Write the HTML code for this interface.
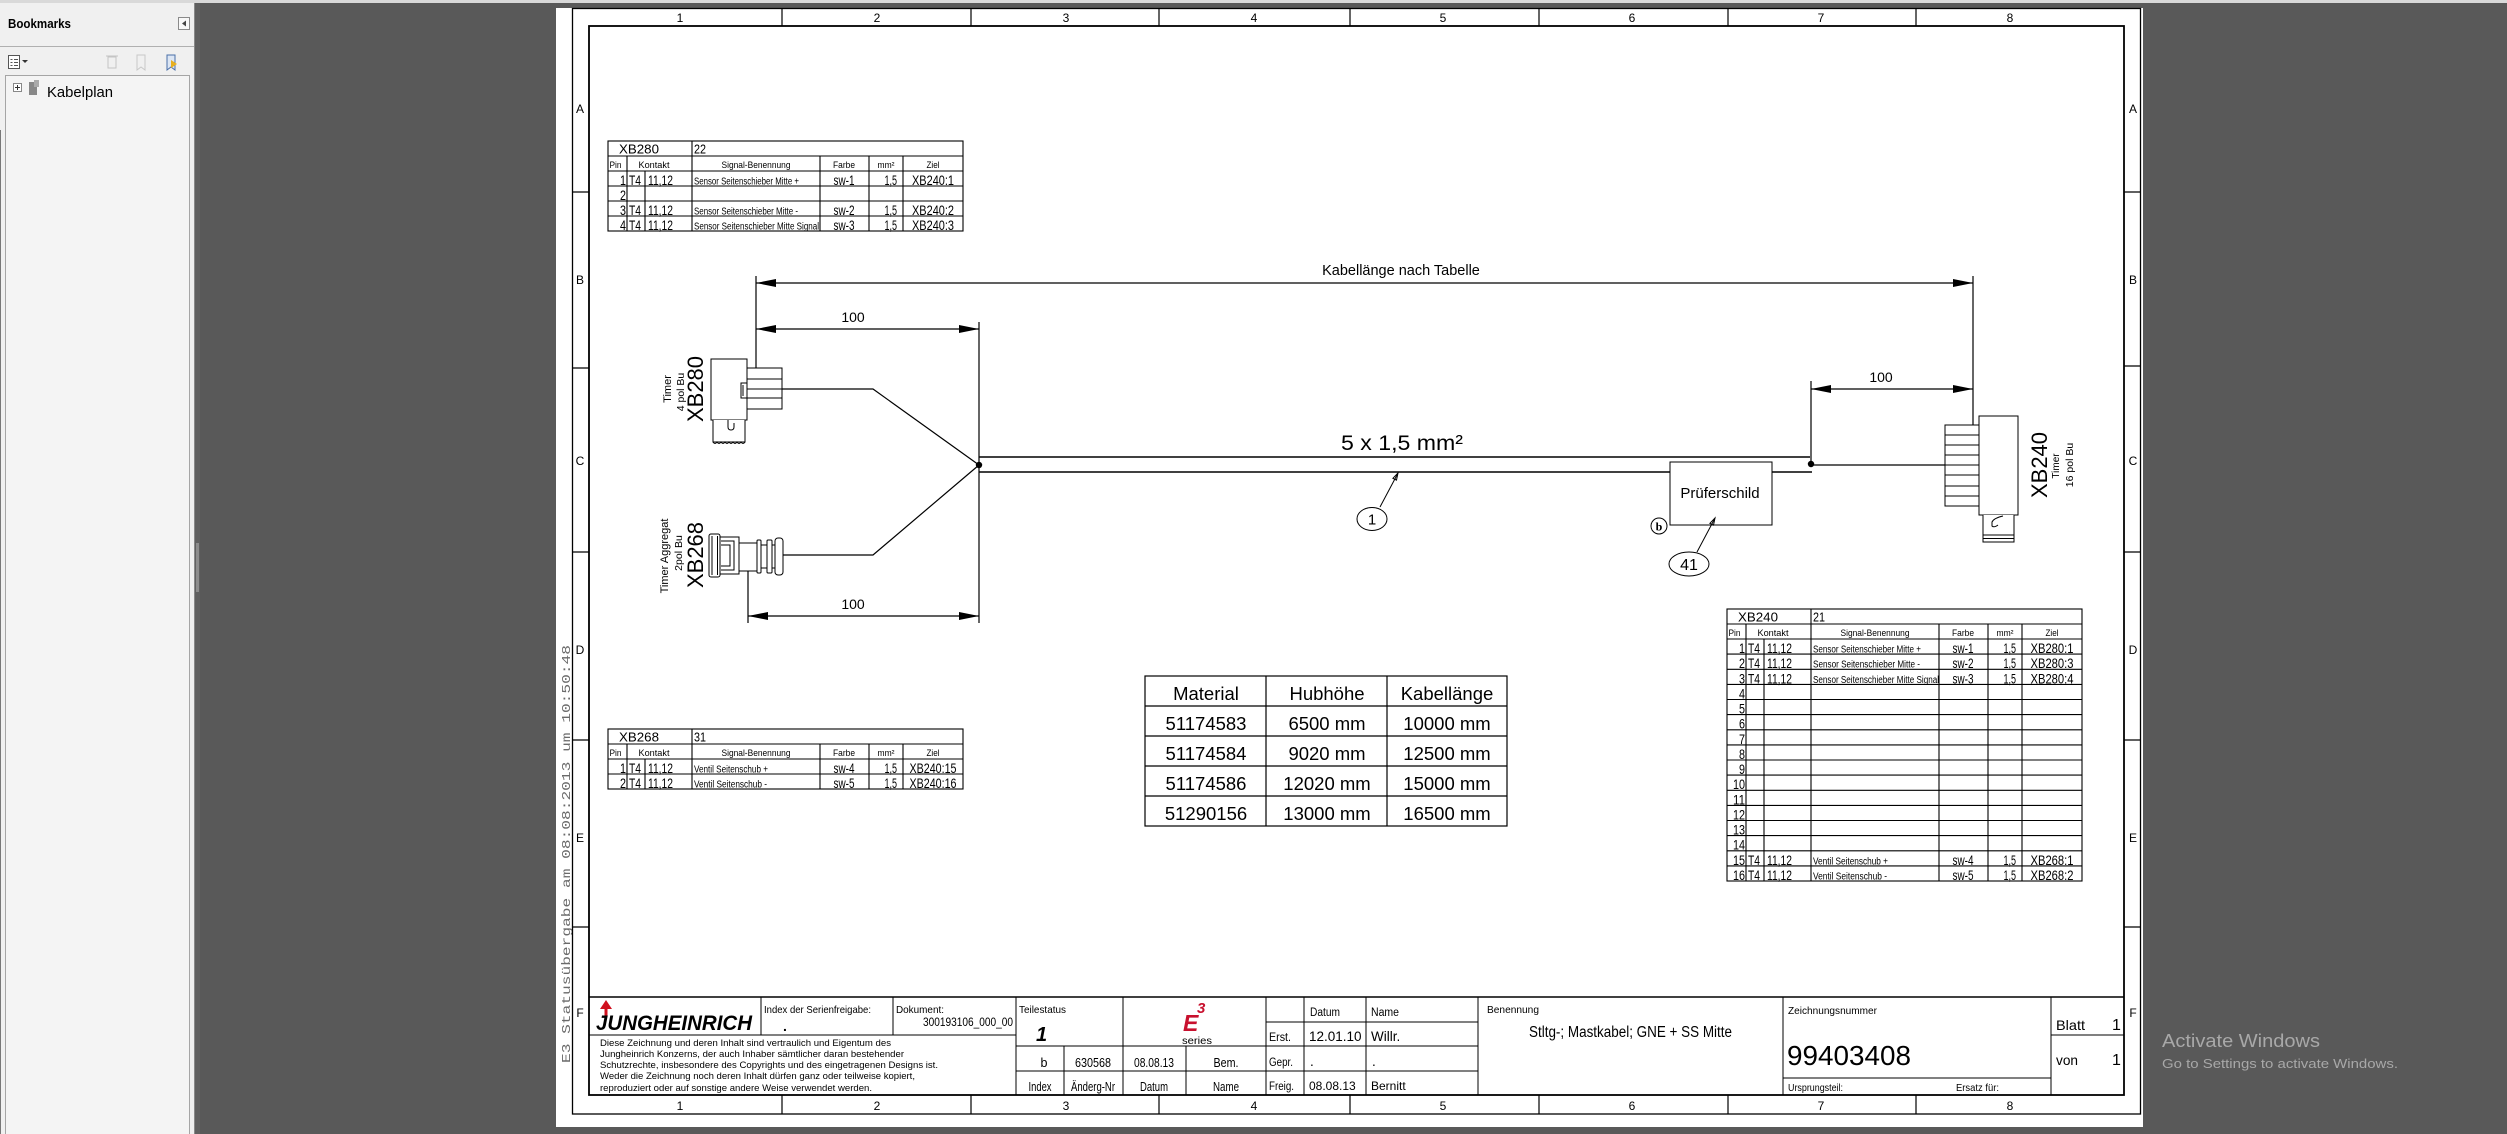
<!DOCTYPE html>
<html><head><meta charset="utf-8">
<style>
html,body{margin:0;padding:0;width:2507px;height:1134px;overflow:hidden;background:#595959}
svg{display:block}
text{font-family:"Liberation Sans",Arial,sans-serif;fill:#000}
</style></head><body>
<svg width="2507" height="1134" viewBox="0 0 2507 1134" xmlns="http://www.w3.org/2000/svg">
<rect width="2507" height="1134" fill="#595959"/>
<rect width="2507" height="3" fill="#d9d9d9"/>

<!-- Bookmarks panel -->
<rect x="0" y="3" width="194" height="1131" fill="#f0f0f0"/>
<line x1="194.5" y1="3" x2="194.5" y2="1134" stroke="#8a8a8a"/>
<rect x="195" y="3" width="5" height="1131" fill="#606060"/>
<rect x="196" y="543" width="3" height="49" fill="#8c8c8c"/>
<line x1="0.5" y1="130" x2="0.5" y2="1134" stroke="#777"/>
<text x="8" y="28" font-size="12.5" font-weight="bold" textLength="63" lengthAdjust="spacingAndGlyphs">Bookmarks</text>
<rect x="178.5" y="17.5" width="11" height="12" fill="#f8f8f8" stroke="#8a8a8a"/>
<polygon points="182,23.5 186,20.5 186,26.5" fill="#444"/>
<line x1="0" y1="46.5" x2="194" y2="46.5" stroke="#b0b0b0"/>
<rect x="8.5" y="55.5" width="11" height="13" fill="#fff" stroke="#555"/>
<path d="M10.5 59.5h2M14 59.5h4M10.5 62.5h2M14 62.5h4M10.5 65.5h2M14 65.5h4" stroke="#555"/>
<polygon points="22,60 28,60 25,63" fill="#333"/>
<rect x="108" y="57" width="8" height="11" fill="none" stroke="#c4c4c4"/>
<line x1="106" y1="56" x2="118" y2="56" stroke="#c4c4c4"/>
<path d="M137 55h8v15l-4-3-4 3z" fill="none" stroke="#c8c8c8"/>
<path d="M167 55h8v15l-4-3-4 3z" fill="#dce6f4" stroke="#4a6fa8"/>
<polygon points="171,60 177,64 171,68" fill="#e8b020"/>
<rect x="5.5" y="75.5" width="184" height="1060" fill="#f4f4f4" stroke="#a5a5a5"/>
<rect x="13.5" y="83.5" width="8" height="8" fill="#fff" stroke="#888"/>
<path d="M15 87.5h5M17.5 85v5" stroke="#333"/>
<rect x="29" y="82" width="8" height="13" fill="#888"/>
<rect x="34" y="80" width="5" height="7" fill="#aaa"/>
<text x="47" y="97" font-size="15" textLength="66" lengthAdjust="spacingAndGlyphs">Kabelplan</text>

<!-- Page -->
<rect x="556" y="8" width="1587" height="1119" fill="#fff"/>
<text transform="translate(570,1063) rotate(-90)" style="font-family:'Liberation Mono',monospace;fill:#6a6a6a" font-size="12" textLength="418" lengthAdjust="spacingAndGlyphs">E3 Statusübergabe am 08:08:2013 um 10:50:48</text>

<g stroke="#000" fill="none">
<rect x="572.5" y="8.5" width="1568" height="1105.5" stroke-width="1.3"/>
<rect x="589" y="26" width="1535" height="1069" stroke-width="1.8"/>
<path stroke-width="1.2" d="M782 8.5V26M971 8.5V26M1159 8.5V26M1350 8.5V26M1539 8.5V26M1728 8.5V26M1916 8.5V26
M782 1095V1114M971 1095V1114M1159 1095V1114M1350 1095V1114M1539 1095V1114M1728 1095V1114M1916 1095V1114
M572 192H589M572 368H589M572 552H589M572 740H589M572 927H589
M2124 192H2141M2124 366H2141M2124 552H2141M2124 740H2141M2124 927H2141"/>
</g>
<g font-size="12" text-anchor="middle">
<text x="680" y="22">1</text><text x="877" y="22">2</text><text x="1066" y="22">3</text><text x="1254" y="22">4</text><text x="1443" y="22">5</text><text x="1632" y="22">6</text><text x="1821" y="22">7</text><text x="2010" y="22">8</text>
<text x="680" y="1110">1</text><text x="877" y="1110">2</text><text x="1066" y="1110">3</text><text x="1254" y="1110">4</text><text x="1443" y="1110">5</text><text x="1632" y="1110">6</text><text x="1821" y="1110">7</text><text x="2010" y="1110">8</text>
<text x="580" y="113">A</text><text x="580" y="284">B</text><text x="580" y="465">C</text><text x="580" y="654">D</text><text x="580" y="842">E</text><text x="580" y="1017">F</text>
<text x="2133" y="113">A</text><text x="2133" y="284">B</text><text x="2133" y="465">C</text><text x="2133" y="654">D</text><text x="2133" y="842">E</text><text x="2133" y="1017">F</text>
</g>

<!-- XB280 table -->
<g stroke="#000" stroke-width="1.1" fill="none">
<rect x="608" y="141" width="355" height="90"/>
<path d="M608 156H963M608 171H963M608 186H963M608 201H963M608 216H963M692 141V231M627 156V231M645 171V231M820 156V231M869 156V231M903 156V231"/>
</g>
<text x="619" y="153.5" font-size="13" textLength="40" lengthAdjust="spacingAndGlyphs">XB280</text>
<text x="694" y="153.5" font-size="13" textLength="12" lengthAdjust="spacingAndGlyphs">22</text>
<g font-size="9" text-anchor="middle">
<text x="609.5" y="168" text-anchor="start" textLength="12" lengthAdjust="spacingAndGlyphs">Pin</text>
<text x="654" y="168" textLength="31" lengthAdjust="spacingAndGlyphs">Kontakt</text>
<text x="756" y="168" textLength="69" lengthAdjust="spacingAndGlyphs">Signal-Benennung</text>
<text x="844" y="168" textLength="22" lengthAdjust="spacingAndGlyphs">Farbe</text>
<text x="886" y="168" textLength="17" lengthAdjust="spacingAndGlyphs">mm²</text>
<text x="933" y="168" textLength="13" lengthAdjust="spacingAndGlyphs">Ziel</text>
</g>
<g font-size="14">
<text x="626" y="185" text-anchor="end" textLength="6" lengthAdjust="spacingAndGlyphs">1</text>
<text x="629" y="185" textLength="12" lengthAdjust="spacingAndGlyphs">T4</text>
<text x="648" y="185" textLength="25" lengthAdjust="spacingAndGlyphs">11,12</text>
<text x="844" y="185" text-anchor="middle" textLength="21" lengthAdjust="spacingAndGlyphs">sw-1</text>
<text x="897" y="185" text-anchor="end" textLength="12.5" lengthAdjust="spacingAndGlyphs">1,5</text>
<text x="933" y="185" text-anchor="middle" textLength="42" lengthAdjust="spacingAndGlyphs">XB240:1</text>
<text x="626" y="200" text-anchor="end" textLength="6" lengthAdjust="spacingAndGlyphs">2</text>
<text x="626" y="215" text-anchor="end" textLength="6" lengthAdjust="spacingAndGlyphs">3</text>
<text x="629" y="215" textLength="12" lengthAdjust="spacingAndGlyphs">T4</text>
<text x="648" y="215" textLength="25" lengthAdjust="spacingAndGlyphs">11,12</text>
<text x="844" y="215" text-anchor="middle" textLength="21" lengthAdjust="spacingAndGlyphs">sw-2</text>
<text x="897" y="215" text-anchor="end" textLength="12.5" lengthAdjust="spacingAndGlyphs">1,5</text>
<text x="933" y="215" text-anchor="middle" textLength="42" lengthAdjust="spacingAndGlyphs">XB240:2</text>
<text x="626" y="230" text-anchor="end" textLength="6" lengthAdjust="spacingAndGlyphs">4</text>
<text x="629" y="230" textLength="12" lengthAdjust="spacingAndGlyphs">T4</text>
<text x="648" y="230" textLength="25" lengthAdjust="spacingAndGlyphs">11,12</text>
<text x="844" y="230" text-anchor="middle" textLength="21" lengthAdjust="spacingAndGlyphs">sw-3</text>
<text x="897" y="230" text-anchor="end" textLength="12.5" lengthAdjust="spacingAndGlyphs">1,5</text>
<text x="933" y="230" text-anchor="middle" textLength="42" lengthAdjust="spacingAndGlyphs">XB240:3</text>
</g>
<g font-size="10">
<text x="694" y="184.5" textLength="105" lengthAdjust="spacingAndGlyphs">Sensor Seitenschieber Mitte +</text>
<text x="694" y="214.5" textLength="104" lengthAdjust="spacingAndGlyphs">Sensor Seitenschieber Mitte -</text>
<text x="694" y="229.5" textLength="125" lengthAdjust="spacingAndGlyphs">Sensor Seitenschieber Mitte Signal</text>
</g>

<!-- XB268 table -->
<g stroke="#000" stroke-width="1.1" fill="none">
<rect x="608" y="729" width="355" height="60"/>
<path d="M608 744H963M608 759H963M608 774H963M692 729V789M627 744V789M645 759V789M820 744V789M869 744V789M903 744V789"/>
</g>
<text x="619" y="741.5" font-size="13" textLength="40" lengthAdjust="spacingAndGlyphs">XB268</text>
<text x="694" y="741.5" font-size="13" textLength="12" lengthAdjust="spacingAndGlyphs">31</text>
<g font-size="9" text-anchor="middle">
<text x="609.5" y="756" text-anchor="start" textLength="12" lengthAdjust="spacingAndGlyphs">Pin</text>
<text x="654" y="756" textLength="31" lengthAdjust="spacingAndGlyphs">Kontakt</text>
<text x="756" y="756" textLength="69" lengthAdjust="spacingAndGlyphs">Signal-Benennung</text>
<text x="844" y="756" textLength="22" lengthAdjust="spacingAndGlyphs">Farbe</text>
<text x="886" y="756" textLength="17" lengthAdjust="spacingAndGlyphs">mm²</text>
<text x="933" y="756" textLength="13" lengthAdjust="spacingAndGlyphs">Ziel</text>
</g>
<g font-size="14">
<text x="626" y="773" text-anchor="end" textLength="6" lengthAdjust="spacingAndGlyphs">1</text>
<text x="629" y="773" textLength="12" lengthAdjust="spacingAndGlyphs">T4</text>
<text x="648" y="773" textLength="25" lengthAdjust="spacingAndGlyphs">11,12</text>
<text x="844" y="773" text-anchor="middle" textLength="21" lengthAdjust="spacingAndGlyphs">sw-4</text>
<text x="897" y="773" text-anchor="end" textLength="12.5" lengthAdjust="spacingAndGlyphs">1,5</text>
<text x="933" y="773" text-anchor="middle" textLength="47" lengthAdjust="spacingAndGlyphs">XB240:15</text>
<text x="626" y="788" text-anchor="end" textLength="6" lengthAdjust="spacingAndGlyphs">2</text>
<text x="629" y="788" textLength="12" lengthAdjust="spacingAndGlyphs">T4</text>
<text x="648" y="788" textLength="25" lengthAdjust="spacingAndGlyphs">11,12</text>
<text x="844" y="788" text-anchor="middle" textLength="21" lengthAdjust="spacingAndGlyphs">sw-5</text>
<text x="897" y="788" text-anchor="end" textLength="12.5" lengthAdjust="spacingAndGlyphs">1,5</text>
<text x="933" y="788" text-anchor="middle" textLength="47" lengthAdjust="spacingAndGlyphs">XB240:16</text>
</g>
<g font-size="10">
<text x="694" y="772.5" textLength="74" lengthAdjust="spacingAndGlyphs">Ventil Seitenschub +</text>
<text x="694" y="787.5" textLength="73" lengthAdjust="spacingAndGlyphs">Ventil Seitenschub -</text>
</g>

<!-- XB240 table -->
<g stroke="#000" stroke-width="1.1" fill="none">
<rect x="1727" y="609" width="355" height="272"/>
<path d="M1727 624H2082M1727 639H2082M1727 654.1H2082M1727 669.3H2082M1727 684.4H2082M1727 699.5H2082M1727 714.6H2082M1727 729.8H2082M1727 744.9H2082M1727 760H2082M1727 775.1H2082M1727 790.3H2082M1727 805.4H2082M1727 820.5H2082M1727 835.6H2082M1727 850.8H2082M1727 865.9H2082
M1811 609V881M1746 624V881M1764 639V881M1939 624V881M1988 624V881M2022 624V881"/>
</g>
<text x="1738" y="621.5" font-size="13" textLength="40" lengthAdjust="spacingAndGlyphs">XB240</text>
<text x="1813" y="621.5" font-size="13" textLength="12" lengthAdjust="spacingAndGlyphs">21</text>
<g font-size="9" text-anchor="middle">
<text x="1728.5" y="636" text-anchor="start" textLength="12" lengthAdjust="spacingAndGlyphs">Pin</text>
<text x="1773" y="636" textLength="31" lengthAdjust="spacingAndGlyphs">Kontakt</text>
<text x="1875" y="636" textLength="69" lengthAdjust="spacingAndGlyphs">Signal-Benennung</text>
<text x="1963" y="636" textLength="22" lengthAdjust="spacingAndGlyphs">Farbe</text>
<text x="2005" y="636" textLength="17" lengthAdjust="spacingAndGlyphs">mm²</text>
<text x="2052" y="636" textLength="13" lengthAdjust="spacingAndGlyphs">Ziel</text>
</g>
<g font-size="14" text-anchor="end">
<text x="1745" y="653" textLength="6" lengthAdjust="spacingAndGlyphs">1</text>
<text x="1745" y="668.1" textLength="6" lengthAdjust="spacingAndGlyphs">2</text>
<text x="1745" y="683.3" textLength="6" lengthAdjust="spacingAndGlyphs">3</text>
<text x="1745" y="698.4" textLength="6" lengthAdjust="spacingAndGlyphs">4</text>
<text x="1745" y="713.5" textLength="6" lengthAdjust="spacingAndGlyphs">5</text>
<text x="1745" y="728.6" textLength="6" lengthAdjust="spacingAndGlyphs">6</text>
<text x="1745" y="743.8" textLength="6" lengthAdjust="spacingAndGlyphs">7</text>
<text x="1745" y="758.9" textLength="6" lengthAdjust="spacingAndGlyphs">8</text>
<text x="1745" y="774" textLength="6" lengthAdjust="spacingAndGlyphs">9</text>
<text x="1745" y="789.1" textLength="12" lengthAdjust="spacingAndGlyphs">10</text>
<text x="1745" y="804.3" textLength="12" lengthAdjust="spacingAndGlyphs">11</text>
<text x="1745" y="819.4" textLength="12" lengthAdjust="spacingAndGlyphs">12</text>
<text x="1745" y="834.5" textLength="12" lengthAdjust="spacingAndGlyphs">13</text>
<text x="1745" y="849.6" textLength="12" lengthAdjust="spacingAndGlyphs">14</text>
<text x="1745" y="864.8" textLength="12" lengthAdjust="spacingAndGlyphs">15</text>
<text x="1745" y="879.9" textLength="12" lengthAdjust="spacingAndGlyphs">16</text>
<text x="2016" y="653" textLength="12.5" lengthAdjust="spacingAndGlyphs">1,5</text>
<text x="2016" y="668.1" textLength="12.5" lengthAdjust="spacingAndGlyphs">1,5</text>
<text x="2016" y="683.3" textLength="12.5" lengthAdjust="spacingAndGlyphs">1,5</text>
<text x="2016" y="864.8" textLength="12.5" lengthAdjust="spacingAndGlyphs">1,5</text>
<text x="2016" y="879.9" textLength="12.5" lengthAdjust="spacingAndGlyphs">1,5</text>
</g>
<g font-size="14">
<text x="1748" y="653" textLength="12" lengthAdjust="spacingAndGlyphs">T4</text>
<text x="1767" y="653" textLength="25" lengthAdjust="spacingAndGlyphs">11,12</text>
<text x="1748" y="668.1" textLength="12" lengthAdjust="spacingAndGlyphs">T4</text>
<text x="1767" y="668.1" textLength="25" lengthAdjust="spacingAndGlyphs">11,12</text>
<text x="1748" y="683.3" textLength="12" lengthAdjust="spacingAndGlyphs">T4</text>
<text x="1767" y="683.3" textLength="25" lengthAdjust="spacingAndGlyphs">11,12</text>
<text x="1748" y="864.8" textLength="12" lengthAdjust="spacingAndGlyphs">T4</text>
<text x="1767" y="864.8" textLength="25" lengthAdjust="spacingAndGlyphs">11,12</text>
<text x="1748" y="879.9" textLength="12" lengthAdjust="spacingAndGlyphs">T4</text>
<text x="1767" y="879.9" textLength="25" lengthAdjust="spacingAndGlyphs">11,12</text>
</g>
<g font-size="14" text-anchor="middle">
<text x="1963" y="653" textLength="21" lengthAdjust="spacingAndGlyphs">sw-1</text>
<text x="1963" y="668.1" textLength="21" lengthAdjust="spacingAndGlyphs">sw-2</text>
<text x="1963" y="683.3" textLength="21" lengthAdjust="spacingAndGlyphs">sw-3</text>
<text x="1963" y="864.8" textLength="21" lengthAdjust="spacingAndGlyphs">sw-4</text>
<text x="1963" y="879.9" textLength="21" lengthAdjust="spacingAndGlyphs">sw-5</text>
<text x="2052" y="653" textLength="43" lengthAdjust="spacingAndGlyphs">XB280:1</text>
<text x="2052" y="668.1" textLength="43" lengthAdjust="spacingAndGlyphs">XB280:3</text>
<text x="2052" y="683.3" textLength="43" lengthAdjust="spacingAndGlyphs">XB280:4</text>
<text x="2052" y="864.8" textLength="43" lengthAdjust="spacingAndGlyphs">XB268:1</text>
<text x="2052" y="879.9" textLength="43" lengthAdjust="spacingAndGlyphs">XB268:2</text>
</g>
<g font-size="10">
<text x="1813" y="652.5" textLength="108" lengthAdjust="spacingAndGlyphs">Sensor Seitenschieber Mitte +</text>
<text x="1813" y="667.6" textLength="107" lengthAdjust="spacingAndGlyphs">Sensor Seitenschieber Mitte -</text>
<text x="1813" y="682.8" textLength="126" lengthAdjust="spacingAndGlyphs">Sensor Seitenschieber Mitte Signal</text>
<text x="1813" y="864.3" textLength="75" lengthAdjust="spacingAndGlyphs">Ventil Seitenschub +</text>
<text x="1813" y="879.4" textLength="74" lengthAdjust="spacingAndGlyphs">Ventil Seitenschub -</text>
</g>

<!-- Material table -->
<g stroke="#000" stroke-width="1.2" fill="none">
<rect x="1145" y="676" width="362" height="150"/>
<path d="M1145 706H1507M1145 736H1507M1145 766H1507M1145 796H1507M1266 676V826M1387 676V826"/>
</g>
<g font-size="18.5" text-anchor="middle">
<text x="1206" y="700">Material</text><text x="1327" y="700">Hubhöhe</text><text x="1447" y="700">Kabellänge</text>
<text x="1206" y="730">51174583</text><text x="1327" y="730">6500 mm</text><text x="1447" y="730">10000 mm</text>
<text x="1206" y="760">51174584</text><text x="1327" y="760">9020 mm</text><text x="1447" y="760">12500 mm</text>
<text x="1206" y="790">51174586</text><text x="1327" y="790">12020 mm</text><text x="1447" y="790">15000 mm</text>
<text x="1206" y="820">51290156</text><text x="1327" y="820">13000 mm</text><text x="1447" y="820">16500 mm</text>
</g>

<!-- Dimensions -->
<g stroke="#000" stroke-width="1.2" fill="none">
<path d="M756 283H1973M756 329H979M748 616H979M1811 389H1973
M756 276V368M979 322V623M748 568V623M1973 276V425M1811 381V464"/>
</g>
<g fill="#000">
<polygon points="756,283 776,279 776,287"/><polygon points="1973,283 1953,279 1953,287"/>
<polygon points="756,329 776,325 776,333"/><polygon points="979,329 959,325 959,333"/>
<polygon points="748,616 768,612 768,620"/><polygon points="979,616 959,612 959,620"/>
<polygon points="1811,389 1831,385 1831,393"/><polygon points="1973,389 1953,385 1953,393"/>
</g>
<text x="1401" y="275" font-size="14.5" text-anchor="middle">Kabellänge nach Tabelle</text>
<text x="853" y="322" font-size="14" text-anchor="middle">100</text>
<text x="853" y="609" font-size="14" text-anchor="middle">100</text>
<text x="1881" y="382" font-size="14" text-anchor="middle">100</text>

<!-- Wires & cable -->
<g stroke="#000" stroke-width="1.2" fill="none">
<path d="M782 389H873L979 465M783 555H873L979 465"/>
<path d="M979 457H1810M979 472H1812" stroke-width="1.5"/>
<path d="M1811 465H1945"/>
</g>
<circle cx="979" cy="465" r="3.2" fill="#000"/>
<circle cx="1811" cy="464" r="3.2" fill="#000"/>
<text x="1341" y="450" font-size="21" textLength="122" lengthAdjust="spacingAndGlyphs">5 x 1,5 mm²</text>

<!-- balloons -->
<g stroke="#000" stroke-width="1" fill="none">
<ellipse cx="1372" cy="519" rx="15" ry="11.5" fill="#fff"/>
<path d="M1380 507L1397 475"/>
<polygon points="1398,473 1396.5,480.1 1392.9,478.3"/>
<rect x="1670" y="462" width="102" height="63" fill="#fff"/>
<ellipse cx="1689" cy="564" rx="20" ry="12" fill="#fff"/>
<path d="M1697 552L1714 520"/>
<polygon points="1715,518 1713.5,525.1 1709.9,523.3"/>
<circle cx="1659" cy="526" r="8" fill="#fff"/>
</g>
<text x="1372" y="524.5" font-size="15" text-anchor="middle">1</text>
<text x="1689" y="570" font-size="16" text-anchor="middle">41</text>
<text x="1720" y="498" font-size="15" text-anchor="middle">Prüferschild</text>
<text x="1659" y="530.5" font-size="12" font-weight="bold" text-anchor="middle" style="font-family:'Liberation Serif',serif">b</text>

<!-- XB280 connector -->
<g stroke="#000" stroke-width="1" fill="#fff">
<rect x="711" y="359" width="36" height="61"/>
<rect x="747" y="368" width="35" height="41"/>
<path d="M747 379H782M747 389H782M747 398H782" fill="none"/>
<rect x="741" y="383" width="6" height="15"/>
<path d="M743 385V396" fill="none"/>
<path d="M713 420V442H745V420" />
<path d="M713 442q2 3 4 0q2 3 4 0q2 3 4 0q2 3 4 0q2 3 4 0q2 3 4 0q2 3 4 0q2 3 4 0" fill="none"/>
<path d="M728 420V427q0 3 3 3q3 0 3-3V423" fill="none"/>
</g>
<g>
<text transform="translate(703,389) rotate(-90)" font-size="22" text-anchor="middle">XB280</text>
<text transform="translate(684,392) rotate(-90)" font-size="10.5" text-anchor="middle">4 pol Bu</text>
<text transform="translate(671,389) rotate(-90)" font-size="11" text-anchor="middle">Timer</text>
</g>

<!-- XB268 connector -->
<g stroke="#000" stroke-width="1" fill="#fff">
<rect x="709" y="534" width="11" height="43" rx="2"/>
<path d="M712 536V575M717.5 536V575" fill="none"/>
<rect x="720" y="537" width="19" height="37"/>
<path d="M721 541H734V570H721M721 545H730V566H721" fill="none"/>
<rect x="739" y="543" width="18" height="28"/>
<rect x="757" y="540" width="4" height="33" rx="1"/>
<rect x="761" y="545" width="6" height="23"/>
<rect x="767" y="540" width="5" height="33" rx="1"/>
<rect x="772" y="545" width="3" height="23"/>
<rect x="775" y="538" width="8" height="37" rx="3"/>
</g>
<g>
<text transform="translate(703,555) rotate(-90)" font-size="22" text-anchor="middle">XB268</text>
<text transform="translate(682,553) rotate(-90)" font-size="10.5" text-anchor="middle">2pol Bu</text>
<text transform="translate(668,556) rotate(-90)" font-size="11" text-anchor="middle">Timer Aggregat</text>
</g>

<!-- XB240 connector -->
<g stroke="#000" stroke-width="1" fill="#fff">
<rect x="1945" y="425" width="34" height="81"/>
<path d="M1945 435H1979M1945 445H1979M1945 455H1979M1945 465H1979M1945 475H1979M1945 486H1979M1945 496H1979" fill="none"/>
<rect x="1979" y="416" width="39" height="99"/>
<path d="M1983 515V542H2014V515" />
<path d="M1983 535H2014M1983 538.5H2014" fill="none"/>
<path d="M2003 516q-9 2-11 6v4q2 2 6-1" fill="none"/>
</g>
<g>
<text transform="translate(2047,465) rotate(-90)" font-size="22" text-anchor="middle">XB240</text>
<text transform="translate(2059,466) rotate(-90)" font-size="10" text-anchor="middle">Timer</text>
<text transform="translate(2073,465) rotate(-90)" font-size="10.5" text-anchor="middle">16 pol Bu</text>
</g>

<!-- Title block -->
<g stroke="#000" stroke-width="1" fill="none">
<line x1="589" y1="997" x2="2124" y2="997" stroke-width="1.5"/>
<path d="M761 997V1035M893 997V1035M589 1035H1016M1016 997V1095M1123 997V1095M1016 1046H1266M1016 1071H1266M1064 1046V1095M1186 1046V1095M1266 997V1095M1304 997V1095M1366 997V1095M1478 997V1095M1266 1022H1478M1266 1046H1478M1266 1071H1478M1783 997V1095M1783 1078H2051M2051 997V1095M2051 1035H2124"/>
</g>
<polygon points="606,1000 600,1009 604.5,1009 604.5,1017 607.5,1017 607.5,1009 612,1009" fill="#d0101e"/>
<text x="596" y="1030" font-size="21" font-weight="bold" font-style="italic" textLength="156" lengthAdjust="spacingAndGlyphs">JUNGHEINRICH</text>
<text x="764" y="1013" font-size="10.5" textLength="107" lengthAdjust="spacingAndGlyphs">Index der Serienfreigabe:</text>
<text x="783" y="1031" font-size="14" font-weight="bold">.</text>
<text x="896" y="1013" font-size="10.5" textLength="48" lengthAdjust="spacingAndGlyphs">Dokument:</text>
<text x="1013" y="1026" font-size="12" text-anchor="end" textLength="90" lengthAdjust="spacingAndGlyphs">300193106_000_00</text>
<g font-size="9.5">
<text x="600" y="1046" textLength="291" lengthAdjust="spacingAndGlyphs">Diese Zeichnung und deren Inhalt sind vertraulich und Eigentum des</text>
<text x="600" y="1057" textLength="304" lengthAdjust="spacingAndGlyphs">Jungheinrich Konzerns, der auch Inhaber sämtlicher daran bestehender</text>
<text x="600" y="1068" textLength="338" lengthAdjust="spacingAndGlyphs">Schutzrechte, insbesondere des Copyrights und des eingetragenen Designs ist.</text>
<text x="600" y="1079" textLength="315" lengthAdjust="spacingAndGlyphs">Weder die Zeichnung noch deren Inhalt dürfen ganz oder teilweise kopiert,</text>
<text x="600" y="1091" textLength="272" lengthAdjust="spacingAndGlyphs">reproduziert oder auf sonstige andere Weise verwendet werden.</text>
</g>
<text x="1019" y="1013" font-size="10.5" textLength="47" lengthAdjust="spacingAndGlyphs">Teilestatus</text>
<text x="1036" y="1041" font-size="20" font-weight="bold" font-style="italic">1</text>
<text x="1183" y="1031" font-size="23" font-weight="bold" font-style="italic" style="fill:#c8102e">E</text>
<text x="1197" y="1013" font-size="15" font-weight="bold" font-style="italic" style="fill:#c8102e">3</text>
<text x="1197" y="1044" font-size="10" text-anchor="middle" textLength="30" lengthAdjust="spacingAndGlyphs">series</text>
<g font-size="12.5" text-anchor="middle">
<text x="1044" y="1067">b</text>
<text x="1093" y="1067" textLength="36" lengthAdjust="spacingAndGlyphs">630568</text>
<text x="1154" y="1067" textLength="40" lengthAdjust="spacingAndGlyphs">08.08.13</text>
<text x="1226" y="1067" textLength="25" lengthAdjust="spacingAndGlyphs">Bem.</text>
<text x="1040" y="1091" textLength="23" lengthAdjust="spacingAndGlyphs">Index</text>
<text x="1093" y="1091" textLength="44" lengthAdjust="spacingAndGlyphs">Änderg-Nr</text>
<text x="1154" y="1091" textLength="28" lengthAdjust="spacingAndGlyphs">Datum</text>
<text x="1226" y="1091" textLength="26" lengthAdjust="spacingAndGlyphs">Name</text>
</g>
<g font-size="11.5">
<text x="1310" y="1016" textLength="30" lengthAdjust="spacingAndGlyphs">Datum</text>
<text x="1371" y="1016" textLength="28" lengthAdjust="spacingAndGlyphs">Name</text>
<text x="1269" y="1041" textLength="22" lengthAdjust="spacingAndGlyphs">Erst.</text>
<text x="1269" y="1066" textLength="24" lengthAdjust="spacingAndGlyphs">Gepr.</text>
<text x="1269" y="1090" textLength="25" lengthAdjust="spacingAndGlyphs">Freig.</text>
</g>
<text x="1309" y="1041" font-size="13.5">12.01.10</text>
<text x="1371" y="1041" font-size="13.5">Willr.</text>
<text x="1310" y="1066" font-size="13.5">.</text>
<text x="1372" y="1066" font-size="13.5">.</text>
<text x="1309" y="1090" font-size="12">08.08.13</text>
<text x="1371" y="1090" font-size="12">Bernitt</text>
<text x="1487" y="1013" font-size="10.5" textLength="52" lengthAdjust="spacingAndGlyphs">Benennung</text>
<text x="1529" y="1037" font-size="15.5" textLength="203" lengthAdjust="spacingAndGlyphs">Stltg-; Mastkabel; GNE + SS Mitte</text>
<text x="1788" y="1014" font-size="10.5" textLength="89" lengthAdjust="spacingAndGlyphs">Zeichnungsnummer</text>
<text x="1787" y="1065" font-size="28" textLength="124" lengthAdjust="spacingAndGlyphs">99403408</text>
<text x="1788" y="1091" font-size="10.5" textLength="55" lengthAdjust="spacingAndGlyphs">Ursprungsteil:</text>
<text x="1956" y="1091" font-size="10.5" textLength="43" lengthAdjust="spacingAndGlyphs">Ersatz für:</text>
<text x="2056" y="1030" font-size="14" textLength="29" lengthAdjust="spacingAndGlyphs">Blatt</text>
<text x="2112" y="1030" font-size="16">1</text>
<text x="2056" y="1065" font-size="14" textLength="22" lengthAdjust="spacingAndGlyphs">von</text>
<text x="2112" y="1065" font-size="16">1</text>

<!-- Activate Windows watermark -->
<text x="2162" y="1047" font-size="18" style="fill:#a8a8a8" textLength="158" lengthAdjust="spacingAndGlyphs">Activate Windows</text>
<text x="2162" y="1068" font-size="13" style="fill:#a8a8a8" textLength="236" lengthAdjust="spacingAndGlyphs">Go to Settings to activate Windows.</text>
</svg>
</body></html>
